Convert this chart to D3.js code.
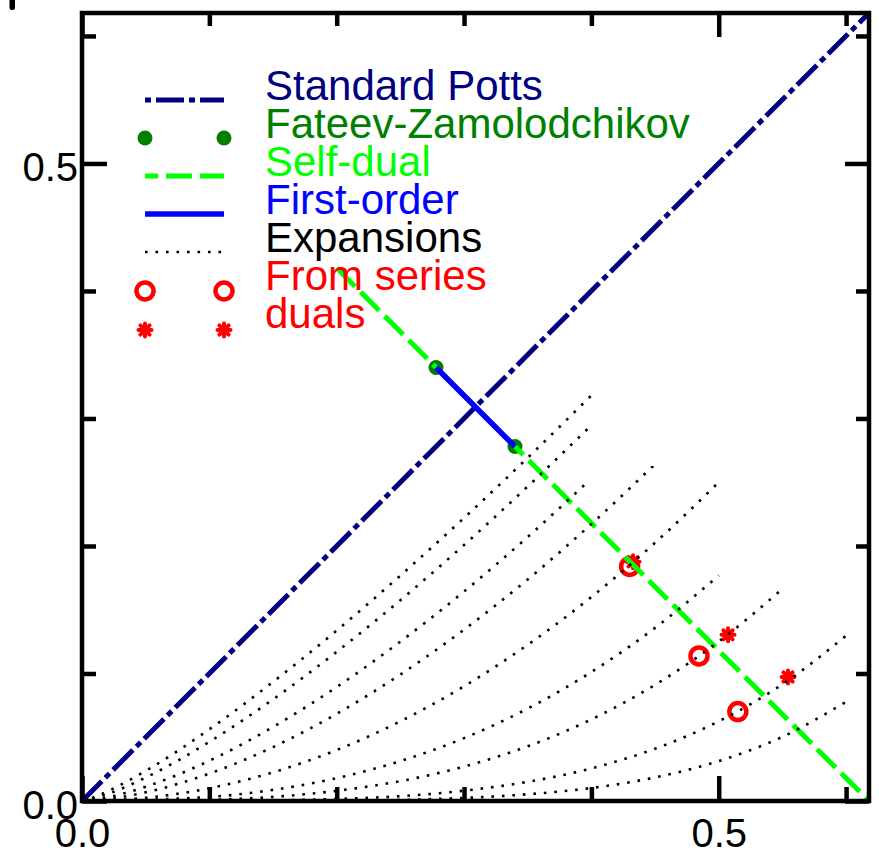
<!DOCTYPE html>
<html>
<head>
<meta charset="utf-8">
<script src="https://cdn.jsdelivr.net/npm/d3@7"></script>
<style>
  html, body { margin: 0; padding: 0; background: #fff; }
  svg { display: block; font-family: "Liberation Sans", Arial, sans-serif; }
</style>
</head>
<body>
<svg id="chart" width="879" height="854"></svg>
<script>
// ---- data ----
var axisMax = 0.618;
var majorTicks = [0, 0.5];
var minorTicks = [0.1, 0.2, 0.3, 0.4, 0.6];
var tickLabels = ["0.0", "0.5"];

var pottsLine = [[0, 0], [0.618, 0.618]];
var selfDualLine = [[0.2, 0.418], [0.618, 0]];
var fzPoints = [[0.278, 0.340], [0.340, 0.278]];
var firstOrderLine = [[0.278, 0.340], [0.340, 0.278]];
var seriesPoints = [[0.430, 0.184], [0.4845, 0.1138], [0.515, 0.0701]];
var dualPoints = [[0.4327, 0.1876], [0.5073, 0.1303], [0.5544, 0.0973]];

// dotted expansion curves
var expA = [[0,0],[0.01,0.0032],[0.02,0.0075],[0.05,0.0236],[0.1,0.0562],[0.15,0.0934],[0.2,0.1337],[0.25,0.1768],[0.3,0.222],[0.35,0.2692],[0.4,0.3181]];
var expB = [[0,0],[0.01,0.0022],[0.02,0.0054],[0.05,0.0184],[0.1,0.0464],[0.15,0.0797],[0.2,0.117],[0.25,0.1575],[0.3,0.2008],[0.35,0.2467],[0.4,0.2947]];
var expC = [[0,0],[0.01,0.001],[0.02,0.0028],[0.05,0.0112],[0.1,0.0316],[0.15,0.0581],[0.2,0.0894],[0.25,0.125],[0.3,0.1643],[0.35,0.2071],[0.395,0.2483]];
var expD = [[0,0],[0.02,0.0015],[0.05,0.0068],[0.1,0.0215],[0.15,0.0423],[0.2,0.0684],[0.25,0.0992],[0.3,0.1344],[0.35,0.1738],[0.4,0.2172],[0.45,0.2642]];
var expE = [[0,0],[0.05,0.0025],[0.1,0.01],[0.15,0.0225],[0.2,0.04],[0.25,0.0625],[0.3,0.09],[0.35,0.1225],[0.4,0.16],[0.45,0.2025],[0.5,0.25]];
var expF = [[0,0],[0.1,0.0032],[0.15,0.0087],[0.2,0.0179],[0.25,0.0313],[0.3,0.0493],[0.35,0.0725],[0.4,0.1012],[0.45,0.1358],[0.5,0.1768]];
var expG = [[0,0],[0.1,0.001],[0.2,0.008],[0.25,0.0156],[0.3,0.027],[0.35,0.0429],[0.4,0.064],[0.45,0.0911],[0.5,0.125],[0.55,0.1664]];
var expH = [[0,0],[0.1,0.0001],[0.2,0.0016],[0.3,0.0081],[0.35,0.015],[0.4,0.0256],[0.45,0.041],[0.5,0.0625],[0.55,0.0915],[0.6,0.1296]];
var expI = [[0,0],[0.2,0.0003],[0.3,0.0024],[0.35,0.0053],[0.4,0.0102],[0.45,0.0185],[0.5,0.0313],[0.55,0.0503],[0.6,0.0778]];
var expansions = [expA, expB, expC, expD, expE, expF, expG, expH, expI];

var legendLabels = ["Standard Potts", "Fateev-Zamolodchikov", "Self-dual", "First-order", "Expansions", "From series", "duals"];

// ---- styles ----
var navy = "#000080", darkGreen = "#008000", lime = "#00ff00", blue = "#0000ff", red = "#ff0000";
var legendColors = [navy, darkGreen, lime, blue, "#000", red, red];

var svg = d3.select("#chart");

var x = d3.scaleLinear().domain([0, axisMax]).range([82, 869]);
var y = d3.scaleLinear().domain([0, axisMax]).range([801, 13]);

var line = d3.line().x(function(d) { return x(d[0]); }).y(function(d) { return y(d[1]); });
var smooth = d3.line().curve(d3.curveMonotoneX).x(function(d) { return x(d[0]); }).y(function(d) { return y(d[1]); });

svg.append("clipPath").attr("id", "plotclip")
  .append("rect").attr("x", 82).attr("y", 13).attr("width", 787).attr("height", 788);

var plot = svg.append("g").attr("clip-path", "url(#plotclip)");

// asterisk marker (4 strokes)
function starPath(cx, cy, r) {
  var p = "";
  for (var i = 0; i < 4; i++) {
    var a = i * Math.PI / 4;
    var dx = r * Math.cos(a), dy = r * Math.sin(a);
    p += "M" + (cx - dx) + "," + (cy - dy) + "L" + (cx + dx) + "," + (cy + dy);
  }
  return p;
}

plot.append("path").datum(pottsLine)
  .attr("d", line).attr("fill", "none")
  .attr("stroke", navy).attr("stroke-width", 5)
  .attr("stroke-dasharray", "28,5,6,5");

plot.selectAll(".dual").data(dualPoints).enter().append("path")
  .attr("class", "dual")
  .attr("d", function(d) { return starPath(x(d[0]), y(d[1]), 6.5); })
  .attr("stroke", red).attr("stroke-width", 4).attr("stroke-linecap", "round");

plot.selectAll(".series").data(seriesPoints).enter().append("circle")
  .attr("class", "series")
  .attr("cx", function(d) { return x(d[0]); })
  .attr("cy", function(d) { return y(d[1]); })
  .attr("r", 8.5).attr("fill", "none")
  .attr("stroke", red).attr("stroke-width", 4.5);

plot.selectAll(".fz").data(fzPoints).enter().append("circle")
  .attr("class", "fz")
  .attr("cx", function(d) { return x(d[0]); })
  .attr("cy", function(d) { return y(d[1]); })
  .attr("r", 7.5).attr("fill", darkGreen);

plot.append("path").datum(selfDualLine)
  .attr("d", line).attr("fill", "none")
  .attr("stroke", lime).attr("stroke-width", 5)
  .attr("stroke-dasharray", "26,8");

plot.append("path").datum(firstOrderLine)
  .attr("d", line).attr("fill", "none")
  .attr("stroke", blue).attr("stroke-width", 5.5);

plot.selectAll(".exp").data(expansions).enter().append("path")
  .attr("class", "exp")
  .attr("d", smooth).attr("fill", "none")
  .attr("stroke", "#000").attr("stroke-width", 2.6)
  .attr("stroke-dasharray", "2.6,7.9");

// ---- axes: inward ticks on all four sides ----
function styleAxis(g) {
  g.select(".domain").remove();
  g.selectAll(".tick line").attr("stroke", "#000").attr("stroke-width", 4.5);
  g.selectAll("text").attr("font-size", 40).attr("fill", "#000")
    .attr("font-family", "'Liberation Sans', Arial, sans-serif");
}

function fmt(d) { return tickLabels[majorTicks.indexOf(d)]; }

svg.append("g").attr("transform", "translate(0,801)")
  .call(d3.axisBottom(x).tickValues(majorTicks).tickSize(-25).tickPadding(18).tickFormat(fmt))
  .call(styleAxis);
svg.append("g").attr("transform", "translate(0,801)")
  .call(d3.axisBottom(x).tickValues(minorTicks).tickSize(-14).tickFormat(""))
  .call(styleAxis);
svg.append("g").attr("transform", "translate(82,0)")
  .call(d3.axisLeft(y).tickValues(majorTicks).tickSize(-25).tickPadding(4).tickFormat(fmt))
  .call(styleAxis)
  .selectAll("text").attr("dy", "0.43em");
svg.append("g").attr("transform", "translate(82,0)")
  .call(d3.axisLeft(y).tickValues(minorTicks).tickSize(-14).tickFormat(""))
  .call(styleAxis);
svg.append("g").attr("transform", "translate(0,13)")
  .call(d3.axisTop(x).tickValues(majorTicks).tickSize(-24).tickFormat(""))
  .call(styleAxis);
svg.append("g").attr("transform", "translate(0,13)")
  .call(d3.axisTop(x).tickValues(minorTicks).tickSize(-13).tickFormat(""))
  .call(styleAxis);
svg.append("g").attr("transform", "translate(869,0)")
  .call(d3.axisRight(y).tickValues(majorTicks).tickSize(-24).tickFormat(""))
  .call(styleAxis);
svg.append("g").attr("transform", "translate(869,0)")
  .call(d3.axisRight(y).tickValues(minorTicks).tickSize(-13).tickFormat(""))
  .call(styleAxis);

svg.append("rect")
  .attr("x", 82).attr("y", 13).attr("width", 787).attr("height", 788)
  .attr("fill", "none").attr("stroke", "#000").attr("stroke-width", 4.5);

// clipped remnant of the y title at the top-left corner
svg.append("rect").attr("x", 9.5).attr("y", -3).attr("width", 5.5).attr("height", 13)
  .attr("rx", 2.5).attr("fill", "#000");

// ---- legend ----
var lx0 = 145, lx1 = 224, ltx = 265, ly0 = 100, lstep = 38;
var legend = svg.append("g");

legend.append("line").attr("x1", lx0).attr("x2", lx1).attr("y1", ly0).attr("y2", ly0)
  .attr("stroke", navy).attr("stroke-width", 5).attr("stroke-dasharray", "6,5,28,5");
[lx0, lx1].forEach(function(px) {
  legend.append("circle").attr("cx", px).attr("cy", ly0 + lstep).attr("r", 7.5).attr("fill", darkGreen);
});
legend.append("line").attr("x1", lx0).attr("x2", lx1).attr("y1", ly0 + 2 * lstep).attr("y2", ly0 + 2 * lstep)
  .attr("stroke", lime).attr("stroke-width", 5).attr("stroke-dasharray", "26,8").attr("stroke-dashoffset", 13);
legend.append("line").attr("x1", lx0).attr("x2", lx1).attr("y1", ly0 + 3 * lstep).attr("y2", ly0 + 3 * lstep)
  .attr("stroke", blue).attr("stroke-width", 5.5);
legend.append("line").attr("x1", lx0).attr("x2", lx1 + 2).attr("y1", ly0 + 4 * lstep).attr("y2", ly0 + 4 * lstep)
  .attr("stroke", "#000").attr("stroke-width", 2.6).attr("stroke-dasharray", "2.6,7.9");
[lx0, lx1].forEach(function(px) {
  legend.append("circle").attr("cx", px).attr("cy", ly0 + 5 * lstep + 1).attr("r", 8.5)
    .attr("fill", "none").attr("stroke", red).attr("stroke-width", 4.5);
  legend.append("path").attr("d", starPath(px, ly0 + 6 * lstep + 2, 6.5))
    .attr("stroke", red).attr("stroke-width", 4).attr("stroke-linecap", "round");
});

legend.selectAll("text").data(legendLabels).enter().append("text")
  .attr("x", ltx)
  .attr("y", function(d, i) { return ly0 + i * lstep; })
  .attr("font-size", 42)
  .attr("fill", function(d, i) { return legendColors[i]; })
  .text(function(d) { return d; });
</script>
</body>
</html>
